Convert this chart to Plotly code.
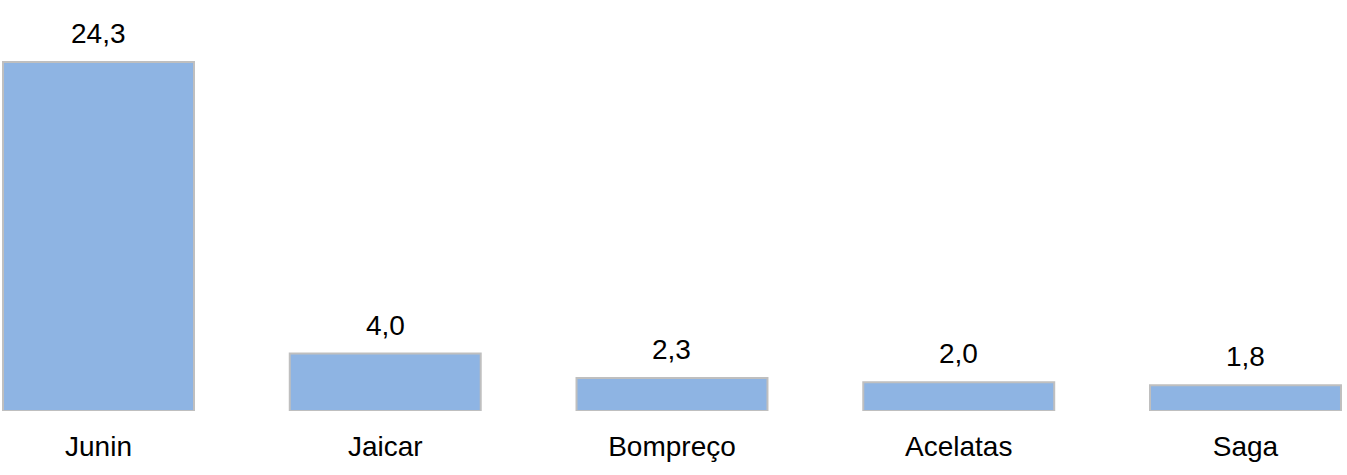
import plotly.graph_objects as go

categories = ["Junin", "Jaicar", "Bompreço", "Acelatas", "Saga"]
values = [24.3, 4.0, 2.3, 2.0, 1.8]
value_labels = ["24,3", "4,0", "2,3", "2,0", "1,8"]

fig = go.Figure()
fig.add_trace(go.Bar(
    x=categories, y=values, width=0.666,
    marker=dict(color="#8EB4E3", line=dict(color="#BFBFBF", width=2)),
    hoverinfo="skip",
))
for c, v, t in zip(categories, values, value_labels):
    fig.add_annotation(x=c, y=v, text=t, showarrow=False, yanchor="bottom",
                       yshift=11, font=dict(size=28, color="#000000",
                                            family="Liberation Sans, Arial"))

fig.update_layout(
    width=1347, height=475,
    margin=dict(l=0, r=0, t=0, b=64),
    plot_bgcolor="white", paper_bgcolor="white",
    showlegend=False,
    font=dict(family="Liberation Sans, Arial", size=28, color="#000000"),
    xaxis=dict(type="category", range=[-0.3435, 4.354], showgrid=False,
               zeroline=False, showline=False, ticks="", ticklabelstandoff=16,
               tickfont=dict(size=28)),
    yaxis=dict(range=[0, 28.62], visible=False, showgrid=False, zeroline=False),
)
fig.write_html("out.html",
               config={"displayModeBar": False, "staticPlot": True},
               post_script="document.body.style.margin='0';document.body.style.overflow='hidden';")
